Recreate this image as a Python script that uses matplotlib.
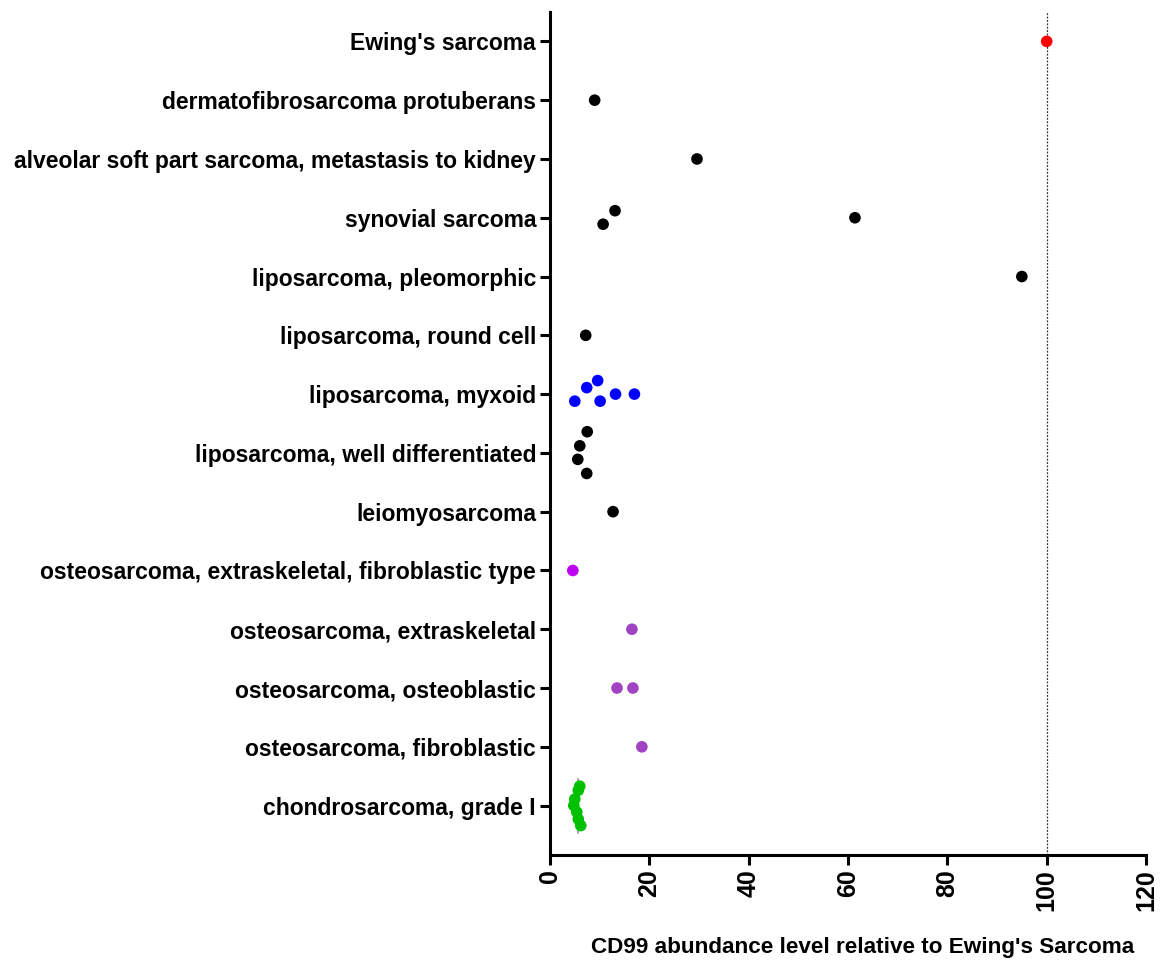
import numpy as np
import matplotlib.pyplot as plt

plt.rcParams['font.family'] = ['Liberation Sans', 'DejaVu Sans']
plt.rcParams['font.weight'] = 'bold'

# categories, top to bottom
categories = ["Ewing's sarcoma",
              "dermatofibrosarcoma protuberans",
              "alveolar soft part sarcoma, metastasis to kidney",
              "synovial sarcoma",
              "liposarcoma, pleomorphic",
              "liposarcoma, round cell",
              "liposarcoma, myxoid",
              "liposarcoma, well differentiated",
              "leiomyosarcoma",
              "osteosarcoma, extraskeletal, fibroblastic type",
              "osteosarcoma, extraskeletal",
              "osteosarcoma, osteoblastic",
              "osteosarcoma, fibroblastic",
              "chondrosarcoma, grade I"]

# values per category (CD99 relative to Ewing's)
values = [[100.0],
          [9.0],
          [29.6],
          [13.1, 10.7, 61.4],
          [95.0],
          [7.2],
          [5.0, 7.4, 9.6, 10.1, 13.2, 17.0],
          [7.5, 6.0, 5.6, 7.4],
          [12.7],
          [4.6],
          [16.5],
          [13.5, 16.7],
          [18.5],
          [6.0, 5.7, 5.0, 4.8, 5.4, 5.7, 6.2]]

# vertical scatter offsets of the points (row units)
jitter = [[0], [0], [0],
          [-0.12, 0.11, 0],
          [0], [0],
          [0.12, -0.11, -0.23, 0.12, 0, 0],
          [-0.36, -0.12, 0.11, 0.35],
          [0], [0], [0],
          [0, 0],
          [0],
          [-0.33, -0.26, -0.11, 0, 0.11, 0.23, 0.34]]

colors = ['#ff0000', 'black', 'black', 'black', 'black', 'black', '#0000ff',
          'black', 'black', '#c000f0', '#a044c4', '#a044c4', '#a044c4', '#00c000']

fig = plt.figure(figsize=(11.61, 9.6), dpi=100)
ax = fig.add_axes([0.4737, 0.1094, 0.5134, 0.8781])

ax.axvline(100, color='#333333', linestyle=(0, (1.5, 1.2)), linewidth=0.9, zorder=1)

for i, (vals, jit, c) in enumerate(zip(values, jitter, colors)):
    ys = [i + j for j in jit]
    ax.scatter(vals, ys, s=70, color=c, edgecolors='none', zorder=3)

# median line for the chondrosarcoma group
med = np.median(values[-1])
n = len(categories) - 1
ax.plot([med, med], [n - 0.46, n + 0.46], color='#999999', linewidth=1.2, zorder=2)

ax.set_yticks(range(len(categories)))
ax.set_yticklabels(categories, fontsize=16.5, fontweight='bold')
ax.set_ylim(13.84, -0.5)
ax.set_xlim(0, 120)
ax.set_xticks(range(0, 121, 20))
ax.set_xticklabels([str(t) for t in range(0, 121, 20)], rotation=90, fontsize=18, fontweight='bold')
ax.set_xlabel("CD99 abundance level relative to Ewing's Sarcoma", fontsize=16.2, fontweight='bold')
ax.xaxis.set_label_coords(0.525, -0.097)

for s in ['top', 'right']:
    ax.spines[s].set_visible(False)
for s in ['left', 'bottom']:
    ax.spines[s].set_linewidth(2.2)
ax.tick_params(axis='both', width=2.2, length=7, direction='out')
ax.tick_params(axis='y', pad=3)

plt.savefig('out.png', dpi=100)
